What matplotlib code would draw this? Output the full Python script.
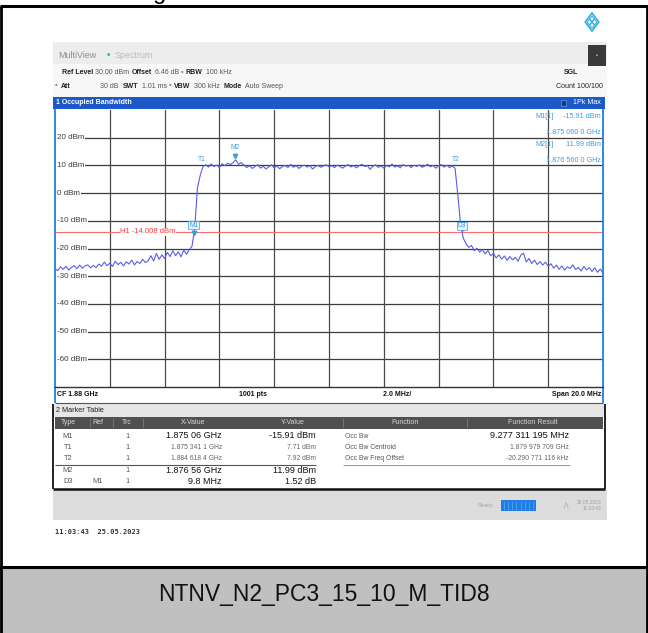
import numpy as np
import matplotlib
matplotlib.use("Agg")
import matplotlib.pyplot as plt
from matplotlib.patches import Rectangle, Polygon
import matplotlib.transforms as mtransforms

# ---------------- data ----------------
sweep_start_ghz = 1.870
sweep_stop_ghz = 1.890
sweep_points = 201  # displayed sampling of the 1001-pt sweep

trace_dbm = [
    -27.2, -28.0, -26.6, -27.5, -26.4, -27.8, -26.8, -26.2, -27.3, -26.0,
    -27.1, -26.3, -25.9, -27.0, -26.1, -26.9, -25.6, -26.4, -24.9, -26.2,
    -25.3, -26.5, -24.6, -25.8, -25.0, -26.3, -24.8, -25.6, -24.2, -25.9,
    -24.7, -25.4, -23.9, -25.1, -24.4, -22.6, -24.5, -21.8, -23.9, -22.3,
    -23.6, -21.4, -22.9, -20.8, -22.6, -21.2, -23.0, -20.6, -22.1, -20.4,
    -19.2, -12.5, 2.0, 6.4, 9.6,
    10.2, 9.4, 10.5, 9.6, 10.1, 9.3, 10.6, 9.9, 10.8, 10.3,
    11.0, 11.99, 10.4, 11.0, 10.1, 9.2, 9.9, 8.9, 9.6, 10.3,
    9.0, 9.7, 8.7, 9.5, 10.2, 9.1, 9.8, 8.8, 9.6, 10.0,
    9.2, 10.4, 9.3, 9.9, 8.9, 9.7, 10.1, 9.4, 9.9, 8.7,
    9.6, 10.0, 9.3, 9.8, 10.2, 9.5, 9.9, 9.2, 10.1, 9.6,
    9.0, 9.8, 10.3, 9.4, 10.0, 9.1, 9.9, 10.4, 9.6, 9.9,
    8.6, 9.7, 10.2, 9.3, 9.8, 9.0, 10.0, 9.5, 10.5, 9.4,
    9.9, 9.1, 10.3, 9.7, 10.0, 9.2, 10.1, 9.6, 10.2, 9.3,
    9.8, 10.4, 9.5, 10.0, 9.0, 9.9, 10.3, 9.4, 10.1, 9.2,
    9.8,
    9.0, -0.5, -11.0, -16.2, -18.3,
    -19.6, -18.9, -20.8, -19.9, -21.3, -20.4, -21.9, -20.7, -22.6, -21.8,
    -23.4, -22.3, -23.8, -22.7, -24.3, -22.9, -24.1, -23.2, -24.6, -22.4,
    -21.7, -24.9, -23.6, -25.4, -24.2, -25.8, -24.7, -26.0, -24.9, -26.4,
    -25.5, -27.1, -26.0, -27.5, -26.3, -27.8, -26.6, -27.2, -25.9, -27.6,
    -26.8, -28.1, -26.5, -27.7, -26.9, -28.3, -27.0, -28.6, -27.4, -28.9,
]

y_ticks_dbm = [20, 10, 0, -10, -20, -30, -40, -50, -60]
h1_level_dbm = -14.008

m1_freq_ghz, m1_level = 1.87506, -15.91
t1_freq_ghz, t1_level = 1.8753411, 7.71
t2_freq_ghz, t2_level = 1.8846184, 7.92
m2_freq_ghz, m2_level = 1.87656, 11.99
d3_delta_mhz, d3_delta_db = 9.8, 1.52

table_header = ["Type", "Ref", "Trc", "X-Value", "Y-Value", "Function", "Function Result"]
table_type = ["M1", "T1", "T2", "M2", "D3"]
table_ref = ["", "", "", "", "M1"]
table_trc = ["1", "1", "1", "1", "1"]
table_x = ["1.875 06 GHz", "1.875 341 1 GHz", "1.884 618 4 GHz", "1.876 56 GHz", "9.8 MHz"]
table_y = ["-15.91 dBm", "7.71 dBm", "7.92 dBm", "11.99 dBm", "1.52 dB"]
table_func = ["Occ Bw", "Occ Bw Centroid", "Occ Bw Freq Offset", "", ""]
table_result = ["9.277 311 195 MHz", "1.879 979 709 GHz", "-20.290 771 116 kHz", "", ""]
table_big = [True, False, False, True, True]

caption = "NTNV_N2_PC3_15_10_M_TID8"

# ---------------- figure ----------------
W, H = 648, 633
fig = plt.figure(figsize=(W / 100, H / 100), dpi=100)
fig.patch.set_facecolor("white")
bg = fig.add_axes([0, 0, 1, 1])
bg.set_xlim(0, W)
bg.set_ylim(H, 0)
bg.axis("off")
bg.set_zorder(0)

SANS = ["Liberation Sans", "DejaVu Sans"]


def box(x0, y0, x1, y1, fc, ec="none", lw=0, z=1, axx=None):
    (axx or bg).add_patch(Rectangle((x0, y0), x1 - x0, y1 - y0, facecolor=fc,
                                    edgecolor=ec, linewidth=lw, zorder=z))


def line(x0, y0, x1, y1, color, lw, z=3):
    bg.plot([x0, x1], [y0, y1], color=color, lw=lw, zorder=z, solid_capstyle="butt")


def t(x, y, s, size=5.0, color="#222222", ha="left", weight="normal", family=None, z=5, axx=None):
    (axx or bg).text(x, y, s, fontsize=size, color=color, ha=ha, va="center",
                     fontweight=weight, family=family or SANS, zorder=z)


# outer frame and caption band
box(0, 567, W, H, "#c0c0c0", z=0)
line(0, 6, W, 6, "black", 2.2)
line(0, 567, W, 567, "black", 2.2)
line(1, 6, 1, H, "black", 2)
line(W - 1, 6, W - 1, H, "black", 2)
bg.text(160, -1.5, "g", fontsize=17, color="black", ha="center", va="baseline", family=SANS)
bg.text(W / 2, 594, caption, fontsize=16.5, color="#111111", ha="center", va="center", family=SANS)

# R&S logo
cx, cy, r = 592, 22, 9
bg.add_patch(Polygon([[cx, cy - r], [cx + r * 0.75, cy], [cx, cy + r], [cx - r * 0.75, cy]],
                     closed=True, fill=False, edgecolor="#3cb4e6", lw=1.3, zorder=3))
for dx, dy in [(-2.6, 0), (2.6, 0), (0, -3.2), (0, 3.2)]:
    s = 3.0
    bg.add_patch(Polygon([[cx + dx, cy + dy - s], [cx + dx + s * 0.75, cy + dy],
                          [cx + dx, cy + dy + s], [cx + dx - s * 0.75, cy + dy]],
                         closed=True, fill=False, edgecolor="#3cb4e6", lw=0.8, zorder=3))

# header
box(53, 42, 607, 64, "#ededed")
box(53, 64, 607, 97, "#f7f7f7")
box(588, 45, 606, 66, "#3a3a3a", z=2)
t(597, 55.5, "•", 4, "#dddddd", ha="center")
t(58, 56, "MultiView", 6.4, "#8c8c8c")
t(107, 55, "•", 7, "#2aa8e0")
t(115, 56, "Spectrum", 6.4, "#bcbcbc")

hs = 5.0
t(62, 73, "Ref Level", hs, "#222", weight="bold")
t(95, 73, "30.00 dBm", hs, "#555")
t(132, 73, "Offset", hs, "#222", weight="bold")
t(155, 73, "6.46 dB", hs, "#555")
t(181, 72.5, "•", 5.5, "#3cb043")
t(186, 73, "RBW", hs, "#222", weight="bold")
t(206, 73, "100 kHz", hs, "#555")
t(564, 73, "SGL", hs, "#222", weight="bold")

t(55, 85.5, "•", 5.5, "#3cb043")
t(61, 86, "Att", hs, "#222", weight="bold")
t(119, 86, "30 dB", hs, "#555", ha="right")
t(123, 86, "SWT", hs, "#222", weight="bold")
t(142, 86, "1.01 ms", hs, "#555")
t(169, 85.5, "•", 5.5, "#3cb043")
t(174, 86, "VBW", hs, "#222", weight="bold")
t(194, 86, "300 kHz", hs, "#555")
t(223, 86, "Mode", hs, "#222", weight="bold")
t(245, 86, "Auto Sweep", hs, "#555")
t(603, 86, "Count 100/100", 5.1, "#222", ha="right")

# window title bar
box(53, 97, 605, 109, "#1b58c8", z=2)
t(56, 103, "1 Occupied Bandwidth", 5.0, "white", weight="bold", z=6)
box(561, 100, 566, 106, "#0d3a8a", ec="#88aaff", lw=0.4, z=6)
t(601, 103, "1Pk Max", 5.1, "white", ha="right", z=6)

# ---------------- spectrum plot ----------------
left, right, top, bottom = 55, 603, 110, 387
ax = fig.add_axes([left / W, 1 - bottom / H, (right - left) / W, (bottom - top) / H])
ax.set_zorder(1)
ax.set_facecolor("white")
ax.set_xlim(sweep_start_ghz, sweep_stop_ghz)
ax.set_ylim(-70, 30)
ax.set_xticks([])
ax.set_yticks([])
for v in range(-60, 30, 10):
    ax.axhline(v, color="#3c3c3c", lw=0.9, zorder=1)
for f in np.linspace(sweep_start_ghz, sweep_stop_ghz, 11)[1:-1]:
    ax.axvline(f, color="#4a4a4a", lw=0.9, zorder=1)
for side in ["left", "right"]:
    ax.spines[side].set_color("#2f86e0")
    ax.spines[side].set_linewidth(1.4)
ax.spines["top"].set_visible(False)
ax.spines["bottom"].set_color("#333333")
ax.spines["bottom"].set_linewidth(1.0)

ytr = ax.get_yaxis_transform()
for v in y_ticks_dbm:
    ax.text(0.004, v, f"{v} dBm", transform=ytr, fontsize=5.8, color="#3a3a3a",
            va="center", ha="left", family=SANS, zorder=2,
            bbox=dict(facecolor="white", edgecolor="none", pad=0.6))

# H1 display line
ax.axhline(h1_level_dbm, color="#ff6a6a", lw=0.8, zorder=2)
ax.text(1.8734, h1_level_dbm, f"H1 {h1_level_dbm:.3f} dBm", fontsize=5.5,
        color="#ff3b3b", ha="center", va="center", family=SANS, zorder=2.5,
        bbox=dict(facecolor="white", edgecolor="none", pad=0.3))

freq = np.linspace(sweep_start_ghz, sweep_stop_ghz, sweep_points)
ax.plot(freq, trace_dbm, color="#5c5ce8", lw=0.8, zorder=4)

mcol = "#3a9ee2"
up4 = mtransforms.offset_copy(ax.transData, fig=fig, y=4, units="dots")
d3_freq = m1_freq_ghz + d3_delta_mhz / 1000
d3_level = m1_level + d3_delta_db
for fx, lv in [(m1_freq_ghz, m1_level), (m2_freq_ghz, m2_level), (d3_freq, d3_level)]:
    ax.plot([fx], [lv], marker="v", ms=3.2, color=mcol, transform=up4, zorder=6, ls="none")


def mlabel(fx, lv, s, dy, boxed=False):
    kw = dict(fontsize=4.8, color=mcol, ha="center", va="center", family=SANS, zorder=6,
              textcoords="offset pixels", xytext=(0, dy))
    if boxed:
        kw["bbox"] = dict(facecolor="#e8f4ff", edgecolor=mcol, lw=0.5, pad=0.5)
    ax.annotate(s, (fx, lv), **kw)


mlabel(m1_freq_ghz, m1_level, "M1", 12, boxed=True)
mlabel(m2_freq_ghz, m2_level, "M2", 12)
mlabel(t1_freq_ghz, t1_level, "T1", 12)
mlabel(t2_freq_ghz, t2_level, "T2", 12)
mlabel(d3_freq, d3_level, "D3", 7, boxed=True)

# overlay for marker readout (drawn above the plot)
ov = fig.add_axes([0, 0, 1, 1])
ov.set_xlim(0, W)
ov.set_ylim(H, 0)
ov.axis("off")
ov.set_zorder(2)
rs = 5.2
t(535, 117, "M1[1]", rs, mcol, axx=ov)
t(601, 117, f"{m1_level:.2f} dBm", rs, mcol, ha="right", axx=ov)
t(601, 132, "1.875 060 0 GHz", rs, mcol, ha="right", axx=ov)
t(535, 145, "M2[1]", rs, mcol, axx=ov)
t(601, 145, f"{m2_level:.2f} dBm", rs, mcol, ha="right", axx=ov)
t(601, 160, "1.876 560 0 GHz", rs, mcol, ha="right", axx=ov)

# frequency info strip
line(55, 387, 55, 403, "#2f86e0", 1.4)
line(603, 387, 603, 403, "#2f86e0", 1.4)
line(55, 403, 603, 403, "#555555", 0.8)
t(57, 395, "CF 1.88 GHz", 5.0, "#111", weight="bold")
t(253, 395, "1001 pts", 5.0, "#111", ha="center", weight="bold")
t(397, 395, "2.0 MHz/", 5.0, "#111", ha="center", weight="bold")
t(601, 395, "Span 20.0 MHz", 5.0, "#111", ha="right", weight="bold")

# marker table
box(53, 404, 605, 417, "#e6e6e6")
t(56, 410.5, "2 Marker Table", 5.2, "#222")
box(55, 417, 603, 429, "#505050")
for xs in [90, 113, 143, 343, 467]:
    line(xs, 418, xs, 428, "#7a7a7a", 0.6)
hx = [68, 98, 127, 193, 293, 405, 533]
for x, s in zip(hx, table_header):
    t(x, 423, s, 5.0, "#d8d8d8", ha="center")
row_y = [436, 447.5, 458.5, 470.5, 481.5]
for i, y in enumerate(row_y):
    big = table_big[i]
    c_small = "#666666"
    t(68, y, table_type[i], 5.3, "#555", ha="center")
    t(98, y, table_ref[i], 5.3, "#555", ha="center")
    t(127, y, table_trc[i], 5.3, "#555", ha="center")
    t(222, y, table_x[i], 6.5 if big else 4.9, "#111" if big else c_small, ha="right")
    t(316, y, table_y[i], 6.5 if big else 4.9, "#111" if big else c_small, ha="right")
    t(345, y, table_func[i], 4.9, "#555")
    t(569, y, table_result[i], 6.6 if i == 0 else 4.9, "#111" if i == 0 else c_small, ha="right")
line(55, 465, 316, 465, "#555555", 0.8)
line(343, 465, 570, 465, "#888888", 0.6)
line(53, 404, 53, 489, "#111111", 1.3)
line(605, 404, 605, 489, "#111111", 1.3)
line(53, 488.5, 605, 488.5, "#111111", 1.8)

# status bar
box(53, 490, 607, 520, "#dcdcdc")
t(478, 505, "Ready", 4, "#a8a8a8")
box(501, 500, 536, 511, "#1f7fe6", z=2)
for xx in np.linspace(504, 533, 8):
    line(xx, 501.5, xx, 509.5, "#5fa8f5", 0.5)
t(563, 505, "⋀", 4, "#999999", family=["DejaVu Sans"])
t(601, 502, "25.05.2023", 3.5, "#a0a0a0", ha="right")
t(601, 508, "11:03:43", 3.5, "#a0a0a0", ha="right")

t(55, 532, "11:03:43  25.05.2023", 5.0, "#333333", family=["DejaVu Sans Mono"], weight="bold")

fig.savefig("out.png", dpi=100, facecolor="white")
